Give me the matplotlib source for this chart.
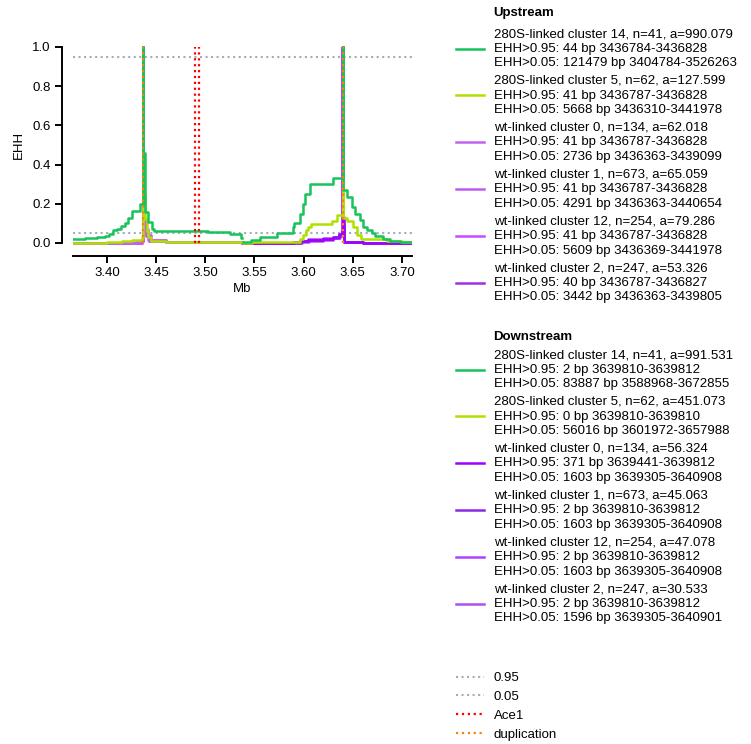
import matplotlib

matplotlib.use("Agg")
import matplotlib.pyplot as plt  # noqa: E402

plt.rcParams["font.family"] = ["Liberation Sans", "DejaVu Sans"]
plt.rcParams["font.size"] = 9.5

# --- data (Mb, EHH), step functions ---
# upstream: core at ~3.4368 Mb
up_c14_x = [3.3654, 3.3776, 3.390, 3.398, 3.402, 3.406, 3.410, 3.414, 3.418, 3.4217, 3.4251, 3.4335,
            3.43678, 3.43683, 3.4387, 3.4420, 3.4455, 3.4480, 3.5030, 3.5250, 3.5360, 3.5370]
up_c14_y = [0.019, 0.024, 0.028, 0.035, 0.048, 0.065, 0.073, 0.085, 0.100, 0.126, 0.165, 0.200,
            1.0, 0.46, 0.16, 0.105, 0.070, 0.061, 0.057, 0.046, 0.024, 0.024]
up_c5_x = [3.3654, 3.400, 3.415, 3.425, 3.4355, 3.4363, 3.43679, 3.43683, 3.4385, 3.4405, 3.4420,
           3.4450, 3.4600, 3.5370]
up_c5_y = [0.002, 0.004, 0.008, 0.016, 0.03, 0.06, 1.0, 0.25, 0.12, 0.06, 0.03, 0.012, 0.006, 0.004]
up_w0_x = [3.3654, 3.4300, 3.4355, 3.43636, 3.43679, 3.43683, 3.4376, 3.4385, 3.4391, 3.4420, 3.4600, 3.5370]
up_w0_y = [0.0, 0.003, 0.01, 0.05, 1.0, 0.3, 0.10, 0.07, 0.04, 0.015, 0.004, 0.002]
up_w1_x = [3.3654, 3.4300, 3.4355, 3.43636, 3.43679, 3.43683, 3.4380, 3.4395, 3.4407, 3.4430, 3.4600, 3.5370]
up_w1_y = [0.0, 0.002, 0.008, 0.05, 1.0, 0.25, 0.09, 0.06, 0.035, 0.012, 0.003, 0.001]
up_w12_x = [3.3654, 3.4300, 3.4355, 3.43637, 3.43679, 3.43683, 3.4380, 3.4400, 3.4420, 3.4450, 3.4600, 3.5370]
up_w12_y = [0.0, 0.003, 0.01, 0.05, 1.0, 0.3, 0.11, 0.07, 0.04, 0.015, 0.005, 0.002]
up_w2_x = [3.3654, 3.4300, 3.4355, 3.43636, 3.43679, 3.43683, 3.4378, 3.4390, 3.4398, 3.4425, 3.4600, 3.5370]
up_w2_y = [0.0, 0.002, 0.008, 0.05, 1.0, 0.28, 0.10, 0.065, 0.035, 0.012, 0.004, 0.001]

# downstream: core at ~3.6398 Mb
dn_c14_x = [3.5385, 3.547, 3.5556, 3.5726, 3.589, 3.5905, 3.5965, 3.599, 3.6014, 3.6065, 3.6296,
            3.63980, 3.63982, 3.6438, 3.6489, 3.6523, 3.6574, 3.6608, 3.6642, 3.6693, 3.6729,
            3.6811, 3.6879, 3.698, 3.7103]
dn_c14_y = [0.007, 0.016, 0.032, 0.049, 0.08, 0.10, 0.15, 0.20, 0.25, 0.30, 0.33,
            1.0, 0.27, 0.236, 0.185, 0.15, 0.117, 0.083, 0.066, 0.053, 0.036,
            0.019, 0.01, 0.005, 0.005]
dn_c5_x = [3.5385, 3.5475, 3.5963, 3.5990, 3.6020, 3.6045, 3.6079, 3.6286, 3.6337, 3.63980, 3.63982,
           3.6438, 3.6506, 3.6545, 3.6580, 3.6850, 3.7000, 3.7103]
dn_c5_y = [0.0, 0.007, 0.02, 0.04, 0.066, 0.083, 0.095, 0.112, 0.143, 1.0, 0.126,
           0.112, 0.083, 0.04, 0.02, 0.01, 0.005, 0.005]
dn_w0_x = [3.5385, 3.5900, 3.5960, 3.6040, 3.6200, 3.6300, 3.6360, 3.63930, 3.63944, 3.63981, 3.6409, 3.6600, 3.7103]
dn_w0_y = [0.0, 0.003, 0.010, 0.016, 0.022, 0.030, 0.045, 0.06, 1.0, 0.13, 0.004, 0.001, 0.0]
dn_w1_x = [3.5385, 3.5900, 3.5970, 3.6050, 3.6200, 3.6300, 3.6365, 3.63930, 3.63980, 3.63982, 3.6409, 3.6600, 3.7103]
dn_w1_y = [0.0, 0.002, 0.008, 0.013, 0.018, 0.026, 0.040, 0.055, 1.0, 0.08, 0.004, 0.001, 0.0]
dn_w12_x = [3.5385, 3.5900, 3.5960, 3.6040, 3.6200, 3.6300, 3.6360, 3.63930, 3.63980, 3.63982, 3.6409, 3.6600, 3.7103]
dn_w12_y = [0.0, 0.003, 0.011, 0.018, 0.024, 0.032, 0.048, 0.06, 1.0, 0.10, 0.004, 0.001, 0.0]
dn_w2_x = [3.5385, 3.5900, 3.5980, 3.6060, 3.6200, 3.6300, 3.6370, 3.63930, 3.63980, 3.63982, 3.6409, 3.6600, 3.7103]
dn_w2_y = [0.0, 0.002, 0.007, 0.012, 0.017, 0.024, 0.038, 0.05, 1.0, 0.07, 0.004, 0.001, 0.0]

up_labels = [
    "280S-linked cluster 14, n=41, a=990.079\nEHH>0.95: 44 bp 3436784-3436828\nEHH>0.05: 121479 bp 3404784-3526263",
    "280S-linked cluster 5, n=62, a=127.599\nEHH>0.95: 41 bp 3436787-3436828\nEHH>0.05: 5668 bp 3436310-3441978",
    "wt-linked cluster 0, n=134, a=62.018\nEHH>0.95: 41 bp 3436787-3436828\nEHH>0.05: 2736 bp 3436363-3439099",
    "wt-linked cluster 1, n=673, a=65.059\nEHH>0.95: 41 bp 3436787-3436828\nEHH>0.05: 4291 bp 3436363-3440654",
    "wt-linked cluster 12, n=254, a=79.286\nEHH>0.95: 41 bp 3436787-3436828\nEHH>0.05: 5609 bp 3436369-3441978",
    "wt-linked cluster 2, n=247, a=53.326\nEHH>0.95: 40 bp 3436787-3436827\nEHH>0.05: 3442 bp 3436363-3439805",
]
dn_labels = [
    "280S-linked cluster 14, n=41, a=991.531\nEHH>0.95: 2 bp 3639810-3639812\nEHH>0.05: 83887 bp 3588968-3672855",
    "280S-linked cluster 5, n=62, a=451.073\nEHH>0.95: 0 bp 3639810-3639810\nEHH>0.05: 56016 bp 3601972-3657988",
    "wt-linked cluster 0, n=134, a=56.324\nEHH>0.95: 371 bp 3639441-3639812\nEHH>0.05: 1603 bp 3639305-3640908",
    "wt-linked cluster 1, n=673, a=45.063\nEHH>0.95: 2 bp 3639810-3639812\nEHH>0.05: 1603 bp 3639305-3640908",
    "wt-linked cluster 12, n=254, a=47.078\nEHH>0.95: 2 bp 3639810-3639812\nEHH>0.05: 1603 bp 3639305-3640908",
    "wt-linked cluster 2, n=247, a=30.533\nEHH>0.95: 2 bp 3639810-3639812\nEHH>0.05: 1596 bp 3639305-3640901",
]
up_colors = ["#17c35b", "#b0e000", "#c462ee", "#bf5cf0", "#c84cff", "#a030e0"]
dn_colors = ["#17c35b", "#b0e000", "#a000ff", "#8a2be2", "#b040ff", "#b050e8"]

thresholds = [0.95, 0.05]
ace1 = [3.4892, 3.4938]
duplication = [3.43681, 3.63981]

up_series = [(up_c14_x, up_c14_y), (up_c5_x, up_c5_y), (up_w0_x, up_w0_y),
             (up_w1_x, up_w1_y), (up_w12_x, up_w12_y), (up_w2_x, up_w2_y)]
dn_series = [(dn_c14_x, dn_c14_y), (dn_c5_x, dn_c5_y), (dn_w0_x, dn_w0_y),
             (dn_w1_x, dn_w1_y), (dn_w12_x, dn_w12_y), (dn_w2_x, dn_w2_y)]

fig = plt.figure(figsize=(7.51, 7.44), dpi=100)
ax = fig.add_axes([0.0972, 0.6708, 0.4514, 0.2687])

# draw wt first so the 280S lines sit on top
up_h, dn_h = [None] * 6, [None] * 6
for i in [5, 4, 3, 2, 1, 0]:
    x, y = up_series[i]
    up_h[i], = ax.plot(x, y, drawstyle="steps-post", color=up_colors[i], lw=1.8)
    x, y = dn_series[i]
    dn_h[i], = ax.plot(x, y, drawstyle="steps-post", color=dn_colors[i], lw=1.8)

h95 = ax.axhline(thresholds[0], color="#a3adb8", ls=":", lw=1.5, zorder=1)
h05 = ax.axhline(thresholds[1], color="#a3adb8", ls=":", lw=1.5, zorder=1)
for xv in ace1:
    hace = ax.vlines(xv, 0, 1, color="red", ls=":", lw=1.6, zorder=4)
for xv in duplication:
    hdup = ax.vlines(xv, 0, 1, color="#ff7f0e", ls=":", lw=1.6, zorder=5)

ax.set_xlim(3.3654, 3.7103)
ax.set_ylim(-0.01, 1.01)
ax.set_xticks([3.40, 3.45, 3.50, 3.55, 3.60, 3.65, 3.70])
ax.set_xticklabels([f"{v:.2f}" for v in [3.40, 3.45, 3.50, 3.55, 3.60, 3.65, 3.70]])
ax.set_yticks([0.0, 0.2, 0.4, 0.6, 0.8, 1.0])
ax.set_yticklabels([f"{v:.1f}" for v in [0.0, 0.2, 0.4, 0.6, 0.8, 1.0]])
for s in ["top", "right"]:
    ax.spines[s].set_visible(False)
for s in ["left", "bottom"]:
    ax.spines[s].set_position(("outward", 8))
    ax.spines[s].set_linewidth(1.4)
ax.spines["left"].set_bounds(0, 1)
ax.tick_params(width=1.4, length=5, pad=3, labelsize=9.5)
ax.set_xlabel("Mb", fontsize=9.5, labelpad=3)
ax.set_ylabel("EHH", fontsize=9.5, labelpad=5)

leg_kw = dict(loc="upper left", frameon=False, borderpad=0, borderaxespad=0,
              labelspacing=0.41, handlelength=2.1, handletextpad=0.75, fontsize=9.5)
fig.text(493 / 751, 1 - 13 / 744, "Upstream", fontweight="bold", va="center", ha="left", fontsize=9.5)
leg = fig.legend(up_h, up_labels, bbox_to_anchor=(456 / 751, 1 - 28 / 744), **leg_kw)
for t in leg.get_texts():
    t.set_linespacing(1.3)
fig.text(493 / 751, 1 - 337 / 744, "Downstream", fontweight="bold", va="center", ha="left", fontsize=9.5)
leg = fig.legend(dn_h, dn_labels, bbox_to_anchor=(456 / 751, 1 - 349 / 744), **leg_kw)
for t in leg.get_texts():
    t.set_linespacing(1.3)
leg_kw["labelspacing"] = 0.5
fig.legend([h95, h05, hace, hdup], ["0.95", "0.05", "Ace1", "duplication"],
           bbox_to_anchor=(456 / 751, 1 - 672 / 744), **leg_kw)

fig.savefig("out.png", dpi=100)
